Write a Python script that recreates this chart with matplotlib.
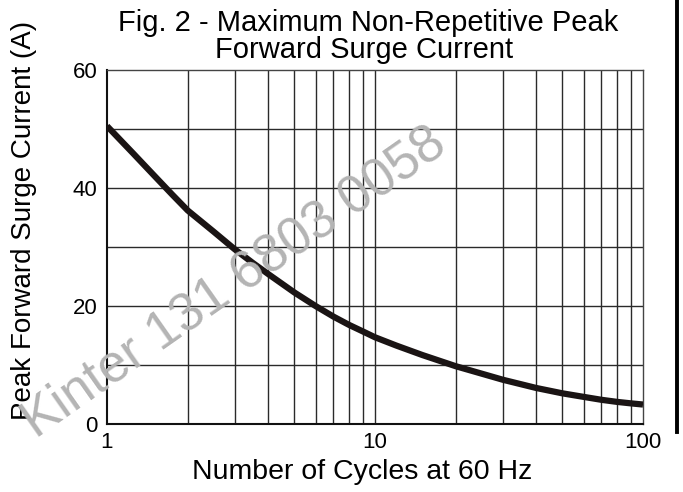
import numpy as np
import matplotlib
matplotlib.use('Agg')
import matplotlib.pyplot as plt
from matplotlib.lines import Line2D

# values
cycles = [1, 1.25, 1.5, 1.75, 2, 2.5, 3, 3.5, 4, 5, 6, 7, 8, 9, 10, 12, 15,
          20, 30, 40, 50, 60, 70, 80, 90, 100]
current = [50.5, 45.9, 42.1, 38.9, 36.2, 32.6, 29.6, 27.3, 25.4, 22.3, 20.0,
           18.2, 16.8, 15.7, 14.7, 13.3, 11.7, 9.8, 7.5, 6.1, 5.2, 4.6, 4.1,
           3.75, 3.5, 3.3]

x_ticks = [1, 10, 100]
x_ticklabels = ['1', '10', '100']
y_ticks = [0, 20, 40, 60]

W, H = 683, 492

plt.rcParams['font.family'] = ['Liberation Sans', 'DejaVu Sans']

fig = plt.figure(figsize=(W / 100, H / 100), dpi=100)
ax = fig.add_axes([107 / W, 68 / H, 536 / W, 354 / H])

ax.set_xscale('log')
ax.set_xlim(1, 100)
ax.set_ylim(0, 60)

# grid
minor = [m * d for d in (1, 10) for m in range(2, 10)]
for xv in minor + [10]:
    ax.axvline(xv, color='#2a2a2a', lw=1.0, zorder=1)
for yv in (10, 20, 30, 40, 50):
    ax.axhline(yv, color='#2a2a2a', lw=1.0, zorder=1)

ax.plot(cycles, current, color='#1a1414', lw=4.5, solid_capstyle='butt',
        solid_joinstyle='round', zorder=3)

ax.set_xticks(x_ticks)
ax.set_xticklabels(x_ticklabels)
ax.set_xticks([], minor=True)
ax.set_yticks(y_ticks)
ax.tick_params(length=0, labelsize=16)
ax.tick_params(axis='x', pad=6)
ax.tick_params(axis='y', pad=7)

for s in ('left', 'bottom'):
    ax.spines[s].set_linewidth(1.5)
    ax.spines[s].set_color('#111111')
for s in ('top', 'right'):
    ax.spines[s].set_linewidth(1.0)
    ax.spines[s].set_color('#444444')

# axis titles
fig.text(362 / W, 1 - 479 / H, 'Number of Cycles at 60 Hz', fontsize=20.5,
         ha='center', va='baseline')
fig.text(24 / W, 1 - 220 / H, 'Peak Forward Surge Current (A)', fontsize=20,
         rotation=90, ha='center', va='center')

# chart title, two lines
fig.text(368 / W, 1 - 31 / H, 'Fig. 2 - Maximum Non-Repetitive Peak',
         fontsize=21, ha='center', va='baseline')
fig.text(364 / W, 1 - 58 / H, 'Forward Surge Current',
         fontsize=21, ha='center', va='baseline')

# watermark
fig.text(234 / W, 1 - 283 / H, 'Kinter 131 6803 0058', color='#b4b4b4',
         fontsize=38, rotation=35, ha='center', va='center', zorder=10)

# right border line
fig.add_artist(Line2D([677 / W, 677 / W], [1 - 432 / H, 1.0],
                      transform=fig.transFigure, color='black', lw=2.8))

fig.savefig('out.png', dpi=100)
